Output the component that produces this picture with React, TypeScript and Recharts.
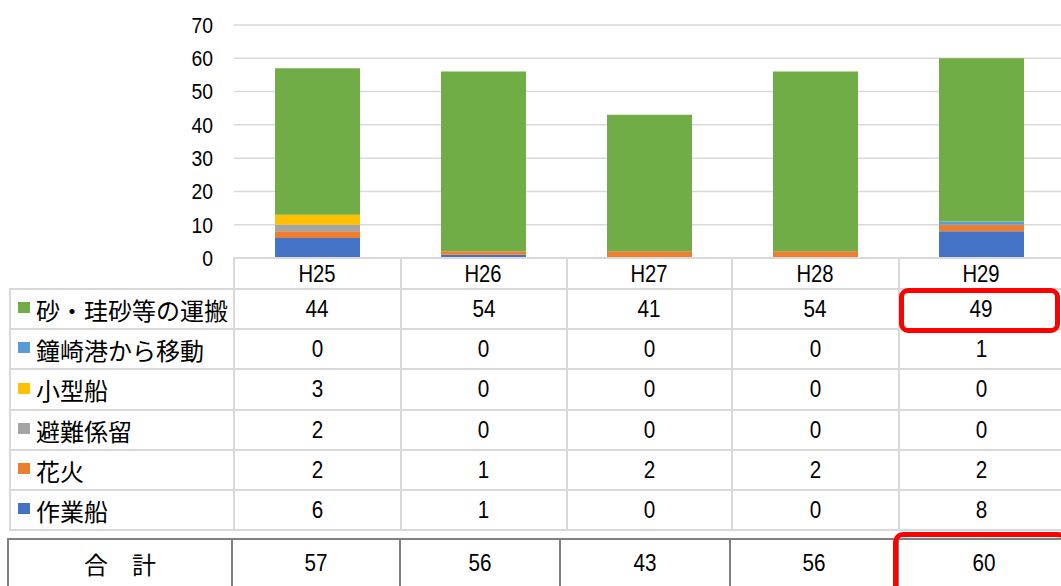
import { Bar, BarChart, CartesianGrid, XAxis, YAxis } from 'recharts';

const years = ['H25', 'H26', 'H27', 'H28', 'H29'];
const sand = [44, 54, 41, 54, 49];
const kanezaki = [0, 0, 0, 0, 1];
const smallBoat = [3, 0, 0, 0, 0];
const refuge = [2, 0, 0, 0, 0];
const fireworks = [2, 1, 2, 2, 2];
const workBoat = [6, 1, 0, 0, 8];
const yTicks = [0, 10, 20, 30, 40, 50, 60, 70];

// top-to-bottom order as shown in the table
const series = [
  { key: 'sand', name: '砂・珪砂等の運搬', color: '#70AD47', values: sand },
  { key: 'kanezaki', name: '鐘崎港から移動', color: '#5B9BD5', values: kanezaki },
  { key: 'small', name: '小型船', color: '#FFC000', values: smallBoat },
  { key: 'refuge', name: '避難係留', color: '#A5A5A5', values: refuge },
  { key: 'fire', name: '花火', color: '#ED7D31', values: fireworks },
  { key: 'work', name: '作業船', color: '#4472C4', values: workBoat },
];

const data = years.map((y, i) => {
  const row: Record<string, string | number> = { year: y };
  series.forEach((s) => (row[s.key] = s.values[i]));
  return row;
});
const totals = years.map((_, i) => series.reduce((a, s) => a + s.values[i], 0));

const jp = "'Noto Sans CJK JP', sans-serif";
const num = "'Liberation Sans', Arial, sans-serif";
const light = '#d9d9d9';
const dark = '#808080';

const colX = [234, 401, 567, 732, 899, 1064];
const rowY = [289, 329, 369, 410, 450, 490, 530];
const totX = [8, 232, 400, 560, 730, 898, 1070];

const hLine = (x1: number, x2: number, y: number, c: string, k: string) => (
  <div key={k} style={{ position: 'absolute', left: x1 - 1, top: y - 1, width: x2 - x1 + 2, height: 2, background: c }} />
);
const vLine = (x: number, y1: number, y2: number, c: string, k: string) => (
  <div key={k} style={{ position: 'absolute', left: x - 1, top: y1 - 1, width: 2, height: y2 - y1 + 2, background: c }} />
);
const cellText = (x1: number, x2: number, y1: number, y2: number, t: string | number, k: string, jpText = false) => (
  <div
    key={k}
    style={{
      position: 'absolute', left: x1, top: y1, width: x2 - x1, height: y2 - y1,
      display: 'flex', alignItems: 'center', justifyContent: 'center',
      fontFamily: jpText ? jp : num, fontSize: jpText ? 24 : 23.5, color: '#000',
    }}
  >
    <span style={{ display: 'inline-block', transform: jpText ? 'none' : 'scaleX(0.88)' }}>{t}</span>
  </div>
);

const YTick = (props: any) => (
  <text
    transform={`translate(213,${props.y}) scale(0.9,1)`}
    textAnchor="end" dominantBaseline="central" fontFamily={num} fontSize={21.5} fill="#000"
  >
    {props.payload.value}
  </text>
);
const XTick = (props: any) => (
  <text
    transform={`translate(${props.x},274) scale(0.88,1)`}
    textAnchor="middle" dominantBaseline="central" fontFamily={num} fontSize={23} fill="#000"
  >
    {props.payload.value}
  </text>
);

export default function App() {
  const lines: any[] = [];
  lines.push(hLine(colX[0], colX[5], 258, light, 'h0'));
  colX.forEach((x, i) => lines.push(vLine(x, 258, 289, light, 'hv' + i)));
  rowY.forEach((y, i) => lines.push(hLine(10, colX[5], y, light, 'r' + i)));
  [10, ...colX].forEach((x, i) => lines.push(vLine(x, 289, 530, light, 'rv' + i)));
  lines.push(hLine(8, 1070, 539, dark, 'tt'));
  totX.forEach((x, i) => lines.push(vLine(x, 539, 600, dark, 'tv' + i)));

  return (
    <div style={{ position: 'absolute', left: 0, top: 0, width: 1061, height: 586, overflow: 'hidden', background: '#fff' }}>
      <BarChart width={1064} height={300} data={data} margin={{ top: 25, right: 0, left: 0, bottom: 10 }}>
        <CartesianGrid vertical={false} stroke={light} strokeWidth={1.5} />
        <XAxis dataKey="year" axisLine={false} tickLine={false} height={32} tick={<XTick />} />
        <YAxis domain={[0, 70]} ticks={yTicks} width={234} axisLine={false} tickLine={false} tick={<YTick />} />
        {[...series].reverse().map((s) => (
          <Bar key={s.key} dataKey={s.key} stackId="a" fill={s.color} barSize={85} isAnimationActive={false} />
        ))}
      </BarChart>
      {lines}
      {series.map((s, r) => (
        <div key={'lab' + r}>
          <div style={{ position: 'absolute', left: 18, top: (rowY[r] + rowY[r + 1]) / 2 - 7, width: 12, height: 11, background: s.color }} />
          <div
            style={{
              position: 'absolute', left: 36, top: rowY[r], height: rowY[r + 1] - rowY[r],
              display: 'flex', alignItems: 'center', fontFamily: jp, fontSize: 24, color: '#000', whiteSpace: 'nowrap',
            }}
          >
            {s.name}
          </div>
          {s.values.map((v, c) => cellText(colX[c], colX[c + 1], rowY[r], rowY[r + 1], v, 'v' + r + '-' + c))}
        </div>
      ))}
      {cellText(totX[0], totX[1], 539, 588, '合　計', 'tl', true)}
      {totals.map((t, c) => cellText(totX[c + 1], totX[c + 2] > 1061 ? 1070 : totX[c + 2], 539, 588, t, 'tot' + c))}
      <div style={{ position: 'absolute', left: 899, top: 288, width: 161, height: 45, boxSizing: 'border-box', border: '5px solid #ff0000', borderRadius: 9 }} />
      <div style={{ position: 'absolute', left: 893, top: 532, width: 175, height: 70, boxSizing: 'border-box', border: '5px solid #ff0000', borderRadius: 10 }} />
    </div>
  );
}
